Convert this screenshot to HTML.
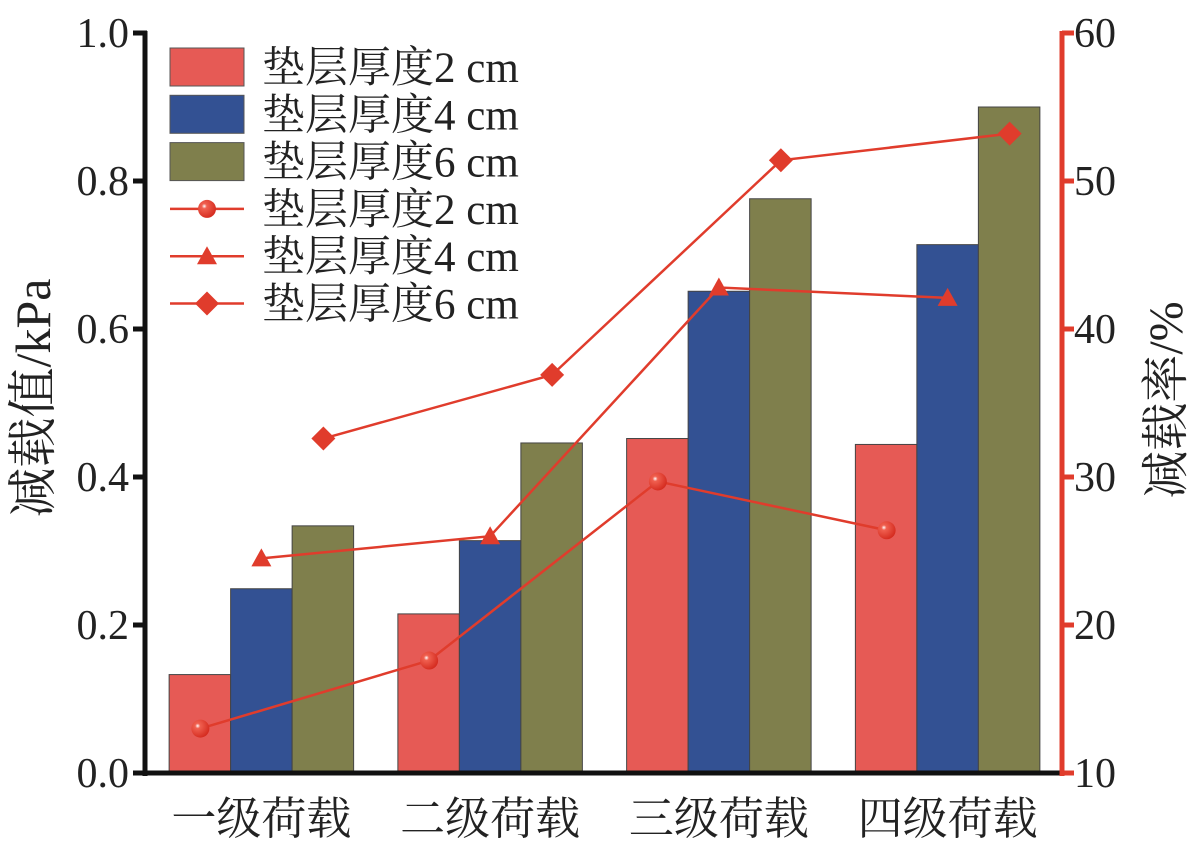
<!DOCTYPE html>
<html><head><meta charset="utf-8"><style>
html,body{margin:0;padding:0;background:#fff}
svg{display:block}
text{font-family:"Liberation Serif","Noto Serif CJK SC",serif;fill:#222}
</style></head><body>
<svg id="chart" width="1199" height="846" viewBox="0 0 1199 846" xmlns="http://www.w3.org/2000/svg">
<defs>
<radialGradient id="ball" cx="0.35" cy="0.35" r="0.7">
<stop offset="0" stop-color="#fff"/><stop offset="0.2" stop-color="#f06050"/><stop offset="1" stop-color="#d42a1e"/>
</radialGradient>
</defs>
<g id="bars"></g>
<g id="lines"></g>
<g id="axes"></g>
<g id="legend"></g>
</svg>
<script>
const categories = ["一级荷载","二级荷载","三级荷载","四级荷载"];
const bar2 = [0.133, 0.215, 0.452, 0.444];
const bar4 = [0.249, 0.314, 0.651, 0.714];
const bar6 = [0.334, 0.446, 0.776, 0.900];
const rate2 = [13.0, 17.6, 29.7, 26.4];
const rate4 = [24.5, 26.0, 42.8, 42.1];
const rate6 = [32.6, 36.9, 51.4, 53.2];
const leftTicks = ["0.0","0.2","0.4","0.6","0.8","1.0"];
const rightTicks = ["10","20","30","40","50","60"];
const legendLabels = ["垫层厚度2 cm","垫层厚度4 cm","垫层厚度6 cm","垫层厚度2 cm","垫层厚度4 cm","垫层厚度6 cm"];

const NS="http://www.w3.org/2000/svg";
const X0=147, X1=1062, Y0=773, Y1=33;
const yL=v=>Y0-(v/1.0)*(Y0-Y1);
const yR=v=>Y0-((v-10)/50)*(Y0-Y1);
const band=(X1-X0)/categories.length;
const xc=i=>X0+band*(i+0.5);
const BW=61.5;
function mk(tag,attrs,parent){const e=document.createElementNS(NS,tag);for(const k in attrs)e.setAttribute(k,attrs[k]);parent.appendChild(e);return e;}
const gB=document.getElementById('bars'),gL=document.getElementById('lines'),gA=document.getElementById('axes'),gG=document.getElementById('legend');
const barSeries=[[bar2,"#e65a55","bar-2cm"],[bar4,"#335193","bar-4cm"],[bar6,"#7f7f4c","bar-6cm"]];
barSeries.forEach(([arr,col,name],s)=>{
 arr.forEach((v,i)=>{
  const x=xc(i)+(s-1.5)*BW;
  const r=mk('rect',{x:x,y:yL(v),width:BW,height:Y0-yL(v),fill:col,stroke:"#444","stroke-width":1},gB);
  
  
 });
});
function marker(type,x,y,parent){
 let e;
 if(type==='circle') e=mk('circle',{cx:x,cy:y,r:9,fill:"url(#ball)"},parent);
 else if(type==='tri') e=mk('polygon',{points:`${x},${y-10} ${x+10},${y+8} ${x-10},${y+8}`,fill:"#e03c2c"},parent);
 else e=mk('polygon',{points:`${x},${y-12} ${x+12},${y} ${x},${y+12} ${x-12},${y}`,fill:"#e03c2c"},parent);
 return e;
}
const lineSeries=[[rate2,'circle',-61,"rate-2cm"],[rate4,'tri',0,"rate-4cm"],[rate6,'diamond',62,"rate-6cm"]];
lineSeries.forEach(([arr,type,off,name])=>{
 const pts=arr.map((v,i)=>[xc(i)+off,yR(v)]);
 const p=mk('polyline',{points:pts.map(p=>p.join(',')).join(' '),fill:"none",stroke:"#e03c2c","stroke-width":2.5},gL);
 
 
 pts.forEach((pt,i)=>{const m=marker(type,pt[0],pt[1],gL);
  
  });
});
let a=mk('line',{x1:X0-2,y1:Y1-2,x2:X0-2,y2:Y0+3,stroke:"#111","stroke-width":5},gA);

a=mk('line',{x1:X0-4,y1:Y0,x2:X1,y2:Y0,stroke:"#111","stroke-width":5},gA);

a=mk('line',{x1:X1,y1:Y1-2,x2:X1,y2:Y0+3,stroke:"#e03c2c","stroke-width":5},gA);

leftTicks.forEach((t,i)=>{const y=yL(+t);
 mk('line',{x1:X0-14,y1:y,x2:X0,y2:y,stroke:"#111","stroke-width":5},gA);
 const tx=mk('text',{x:X0-18,y:y+14,"text-anchor":"end","font-size":42},gA);tx.textContent=t;
 });
rightTicks.forEach((t,i)=>{const y=yR(+t);
 mk('line',{x1:X1,y1:y,x2:X1+12,y2:y,stroke:"#e03c2c","stroke-width":5},gA);
 const tx=mk('text',{x:X1+12,y:y+14,"font-size":42},gA);tx.textContent=t;
 });
categories.forEach((c,i)=>{const tx=mk('text',{x:xc(i),y:834,"text-anchor":"middle","font-size":45},gA);tx.textContent=c;
 });
let tt=mk('text',{x:0,y:0,"text-anchor":"middle","font-size":50,transform:"translate(50,398) rotate(-90)"},gA);tt.textContent="减载值/kPa";

tt=mk('text',{x:0,y:0,"text-anchor":"middle","font-size":48,transform:"translate(1182,400) rotate(-90)"},gA);tt.textContent="减载率/%";

const barCols=["#e65a55","#335193","#7f7f4c"];
legendLabels.forEach((l,i)=>{
 const g=mk('g',{},gG);
 
 const cy=67+i*47.3;
 if(i<3) mk('rect',{x:170,y:cy-19,width:74,height:38,fill:barCols[i],stroke:"#555","stroke-width":1},g);
 else {mk('line',{x1:170,y1:cy,x2:244,y2:cy,stroke:"#e03c2c","stroke-width":2.5},g);
   marker(['circle','tri','diamond'][i-3],207,cy,g);}
 const tx=mk('text',{x:262,y:cy+15,"font-size":43},g);tx.textContent=l;
});
</script>
</body></html>
